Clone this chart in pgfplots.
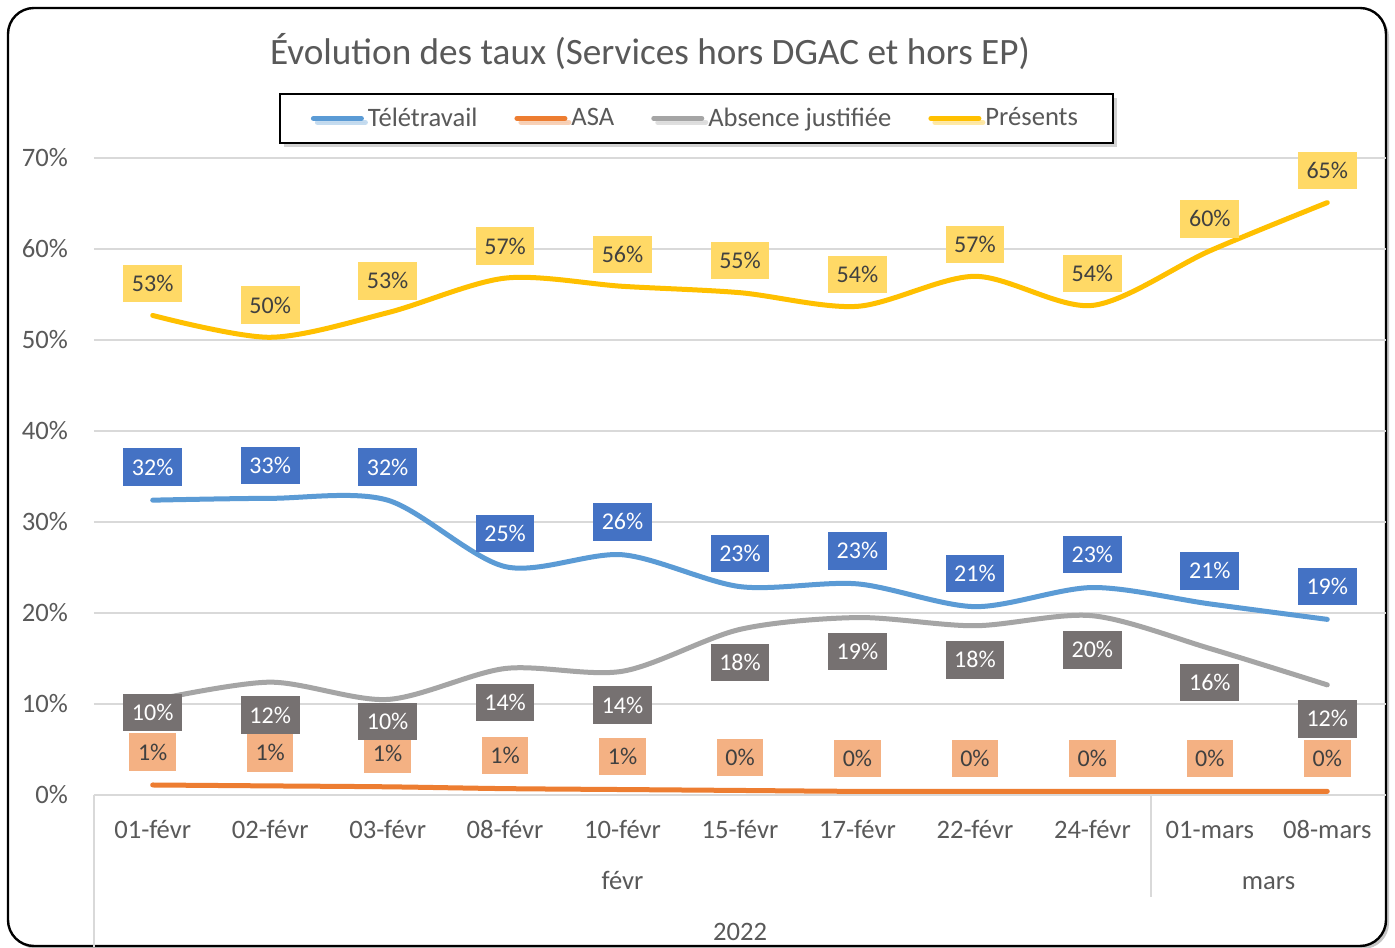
\documentclass[border=0pt]{standalone}
\usepackage{pgfplots}
\pgfplotsset{compat=1.18}
\usepackage{pgfplotstable}
\usepackage{fontspec}
\setmainfont{Carlito}
\usetikzlibrary{shadows}

\definecolor{tele}{HTML}{5B9BD5}
\definecolor{asa}{HTML}{ED7D31}
\definecolor{abs}{HTML}{A5A5A5}
\definecolor{pres}{HTML}{FFC000}
\definecolor{telelab}{HTML}{4472C4}
\definecolor{abslab}{HTML}{767171}
\definecolor{preslab}{HTML}{FFD966}
\definecolor{asalab}{HTML}{F4B183}
\definecolor{txt}{HTML}{595959}
\definecolor{dtxt}{HTML}{404040}
\definecolor{gridc}{HTML}{D9D9D9}

\pgfplotstableread{
x y lab dy
0 32.4 32 16.5
1 32.6 33 16.5
2 32.4 32 16.5
3 25.1 25 16.5
4 26.4 26 16.5
5 22.9 23 16.5
6 23.2 23 16.5
7 20.7 21 16.5
8 22.8 23 16.5
9 21.0 21 16.5
10 19.3 19 16.5
}\teletab

\pgfplotstableread{
x y lab dy
0 1.1 1 16.5
1 1.0 1 16.5
2 0.9 1 16.5
3 0.7 1 16.5
4 0.6 1 16.5
5 0.5 0 16.5
6 0.4 0 16.5
7 0.4 0 16.5
8 0.4 0 16.5
9 0.4 0 16.5
10 0.4 0 16.5
}\asatab

\pgfplotstableread{
x y lab dy
0 10.4 10 -6
1 12.4 12 -16.5
2 10.5 10 -11
3 13.9 14 -17
4 13.6 14 -17
5 18.2 18 -16.5
6 19.5 19 -17
7 18.6 18 -17
8 19.7 20 -17
9 16.1 16 -17
10 12.1 12 -17
}\abstab

\pgfplotstableread{
x y lab dy
0 52.7 53 16
1 50.3 50 16
2 53.0 53 16
3 56.8 57 16
4 55.9 56 16
5 55.2 55 16
6 53.7 54 16
7 57.0 57 16
8 53.8 54 16
9 59.8 60 16
10 65.1 65 16
}\prestab

\begin{document}
\begin{tikzpicture}
\path[use as bounding box] (0,0) rectangle (697.5pt,473.5pt);
\draw[line width=1.2pt, rounded corners=13pt, fill=white,
  drop shadow={shadow xshift=1.5pt, shadow yshift=-1.5pt, opacity=0.45}]
  (4pt,0.5pt) rectangle (693pt,469.5pt);
\node[font=\fontsize{18.6}{22}\selectfont, text=txt] at (325pt,447.5pt)
  {Évolution des taux (Services hors DGAC et hors EP)};
\begin{axis}[
  at={(47pt,76pt)}, anchor=south west,
  scale only axis, width=646pt, height=318.5pt,
  xmin=-0.5, xmax=10.5, ymin=0, ymax=70,
  clip=false,
  axis line style={draw=none},
  major tick length=0pt,
  xtick={0,...,10},
  xticklabels={01-févr,02-févr,03-févr,08-févr,10-févr,15-févr,17-févr,22-févr,24-févr,01-mars,08-mars},
  ytick={0,10,...,70},
  yticklabels={0\%,10\%,20\%,30\%,40\%,50\%,60\%,70\%},
  ymajorgrids,
  grid style={gridc, line width=0.8pt},
  xticklabel style={font=\fontsize{13.3}{16}\selectfont, text=txt, anchor=base, yshift=-21.5pt},
  yticklabel style={font=\fontsize{13.3}{16}\selectfont, text=txt, anchor=east, xshift=-9.5pt},
  point meta=explicit symbolic,
  nodes near coords={\pgfplotspointmeta\%},
  visualization depends on={\thisrow{dy} \as \labdy},
  legend columns=4,
  legend style={at={(0.4663,1.102)}, anchor=north, draw=black, line width=1pt,
    fill=white, font=\fontsize{13.3}{16}\selectfont, text=txt,
    inner xsep=15.5pt, inner ysep=4.8pt,
    drop shadow={shadow xshift=2pt, shadow yshift=-2pt, opacity=0.35},
    /tikz/every even column/.append style={column sep=16.5pt}},
  legend image code/.code={\draw[#1, line width=2.5pt, line cap=round] (0pt,0pt) -- (24pt,0pt);},
]
\addplot[tele, line width=2.5pt, smooth, line cap=round,
  every node near coord/.append style={anchor=center, fill=telelab, text=white,
   font=\fontsize{12}{14}\selectfont, inner xsep=4.3pt, inner ysep=0pt, minimum height=18.8pt, yshift=\labdy pt}]
  table[x=x, y=y, meta=lab] {\teletab};
\addlegendentry{Télétravail}
\addplot[asa, line width=2.5pt, smooth, line cap=round,
  every node near coord/.append style={anchor=center, fill=asalab, text=dtxt,
   font=\fontsize{12}{14}\selectfont, inner xsep=4.3pt, inner ysep=0pt, minimum height=18.8pt, yshift=\labdy pt}]
  table[x=x, y=y, meta=lab] {\asatab};
\addlegendentry{ASA}
\addplot[abs, line width=2.5pt, smooth, line cap=round,
  every node near coord/.append style={anchor=center, fill=abslab, text=white,
   font=\fontsize{12}{14}\selectfont, inner xsep=4.3pt, inner ysep=0pt, minimum height=18.8pt, yshift=\labdy pt}]
  table[x=x, y=y, meta=lab] {\abstab};
\addlegendentry{Absence justifiée}
\addplot[pres, line width=2.5pt, smooth, line cap=round,
  every node near coord/.append style={anchor=center, fill=preslab, text=dtxt,
   font=\fontsize{12}{14}\selectfont, inner xsep=4.3pt, inner ysep=0pt, minimum height=18.8pt, yshift=\labdy pt}]
  table[x=x, y=y, meta=lab] {\prestab};
\addlegendentry{Présents}

\draw[gridc, line width=0.8pt] (axis cs:-0.5,0) -- ([yshift=-76pt]axis cs:-0.5,0);
\draw[gridc, line width=0.8pt] (axis cs:8.5,0) -- ([yshift=-51pt]axis cs:8.5,0);
\node[font=\fontsize{13.3}{16}\selectfont, text=txt, anchor=base] at ([yshift=-47pt]axis cs:4,0) {févr};
\node[font=\fontsize{13.3}{16}\selectfont, text=txt, anchor=base] at ([yshift=-47pt]axis cs:9.5,0) {mars};
\node[font=\fontsize{13.3}{16}\selectfont, text=txt, anchor=base] at ([yshift=-72.5pt]axis cs:5,0) {2022};
\end{axis}
\end{tikzpicture}
\end{document}
